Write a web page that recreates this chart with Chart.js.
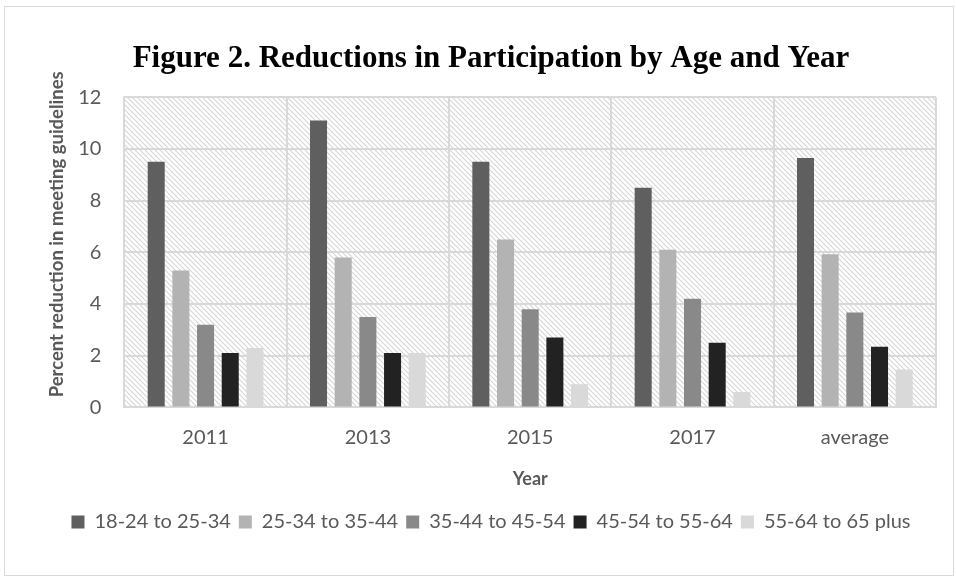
<!DOCTYPE html>
<html>
<head>
<meta charset="utf-8">
<script src="https://cdn.jsdelivr.net/npm/chart.js@4/dist/chart.umd.min.js"></script>
<style>
  html, body { margin: 0; padding: 0; background: #fff; }
  #wrap { position: relative; width: 956px; height: 578px; }
  #frame { position: absolute; left: 4px; top: 6px; width: 950px; height: 570px; border: 1px solid #d9d9d9; box-sizing: border-box; pointer-events: none; }
</style>
</head>
<body>
<div id="wrap">
  <canvas id="chart" width="956" height="578"></canvas>
  <div id="frame"></div>
</div>
<script>
// ── Data ────────────────────────────────────────────────────────────
const years  = ['2011', '2013', '2015', '2017', 'average'];
const groups = ['18-24 to 25-34', '25-34 to 35-44', '35-44 to 45-54', '45-54 to 55-64', '55-64 to 65 plus'];
const s1824 = [9.5, 11.1, 9.5, 8.5, 9.65];
const s2534 = [5.3, 5.8, 6.5, 6.1, 5.92];
const s3544 = [3.2, 3.5, 3.8, 4.2, 3.67];
const s4554 = [2.1, 2.1, 2.7, 2.5, 2.35];
const s5564 = [2.3, 2.1, 0.9, 0.6, 1.47];
const yTicks = [0, 2, 4, 6, 8, 10, 12];

const colors = ['#5f5f5f', '#b3b3b3', '#898989', '#222222', '#d9d9d9'];
const series = [s1824, s2534, s3544, s4554, s5564];
const SANS = 'Lato, "Open Sans", sans-serif';

// hatched plot background
function hatch() {
  const c = document.createElement('canvas');
  c.width = 5; c.height = 5;
  const g = c.getContext('2d');
  g.fillStyle = '#fff';
  g.fillRect(0, 0, 5, 5);
  g.strokeStyle = '#d6d6d6';
  g.lineWidth = 1.1;
  g.beginPath();
  g.moveTo(-1, -1); g.lineTo(6, 6);
  g.moveTo(-4, 1); g.lineTo(1, 6);
  g.moveTo(1, -4); g.lineTo(6, 1);
  g.stroke();
  return g.createPattern(c, 'repeat');
}

const plotBg = {
  id: 'plotBg',
  beforeDraw(chart) {
    const { ctx, chartArea: a } = chart;
    ctx.save();
    ctx.fillStyle = hatch();
    ctx.fillRect(a.left, a.top, a.right - a.left, a.bottom - a.top);
    ctx.restore();
  },
};

// leading spaces nudge the rotated title up, as in the original
const yTitle = '\u00a0'.repeat(8) + 'Percent reduction in meeting guidelines';

const ctx = document.getElementById('chart').getContext('2d');
new Chart(ctx, {
  type: 'bar',
  data: {
    labels: years,
    datasets: series.map((d, i) => ({
      label: groups[i],
      data: d,
      backgroundColor: colors[i],
      borderWidth: 0,
      barPercentage: 0.69,
      categoryPercentage: 0.76,
    })),
  },
  options: {
    responsive: false,
    animation: false,
    layout: { padding: { left: 46, right: 20, top: 22, bottom: 36 } },
    plugins: {
      title: {
        display: true,
        text: 'Figure 2. Reductions in Participation by Age and Year',
        color: '#000',
        font: { family: '"Liberation Serif", "Times New Roman", serif', size: 31, weight: 'bold' },
        padding: { top: 18, bottom: 20 },
      },
      legend: {
        position: 'bottom',
        labels: {
          color: '#595959',
          font: { family: SANS, size: 20 },
          boxWidth: 13,
          boxHeight: 13,
          padding: 8,
        },
      },
      tooltip: { enabled: false },
    },
    scales: {
      x: {
        grid: { color: '#d9d9d9', lineWidth: 2, offset: true, drawTicks: false },
        border: { color: '#d9d9d9', width: 2 },
        ticks: { color: '#595959', font: { family: SANS, size: 20 }, padding: 18 },
        title: {
          display: true, text: 'Year', color: '#595959',
          font: { family: SANS, size: 18, weight: 'bold' },
          padding: { top: 1, bottom: 14 },
        },
      },
      y: {
        min: 0, max: 12,
        afterBuildTicks: axis => { axis.ticks = yTicks.map(v => ({ value: v })); },
        grid: { color: '#d9d9d9', lineWidth: 2, drawTicks: false },
        border: { color: '#d9d9d9', width: 2 },
        ticks: { color: '#595959', font: { family: SANS, size: 20 }, padding: 23 },
        title: {
          display: true, text: yTitle, color: '#595959',
          font: { family: SANS, size: 18.5, weight: 'bold' },
          padding: { top: 0, bottom: -13 },
        },
      },
    },
  },
  plugins: [plotBg],
});
</script>
</body>
</html>
